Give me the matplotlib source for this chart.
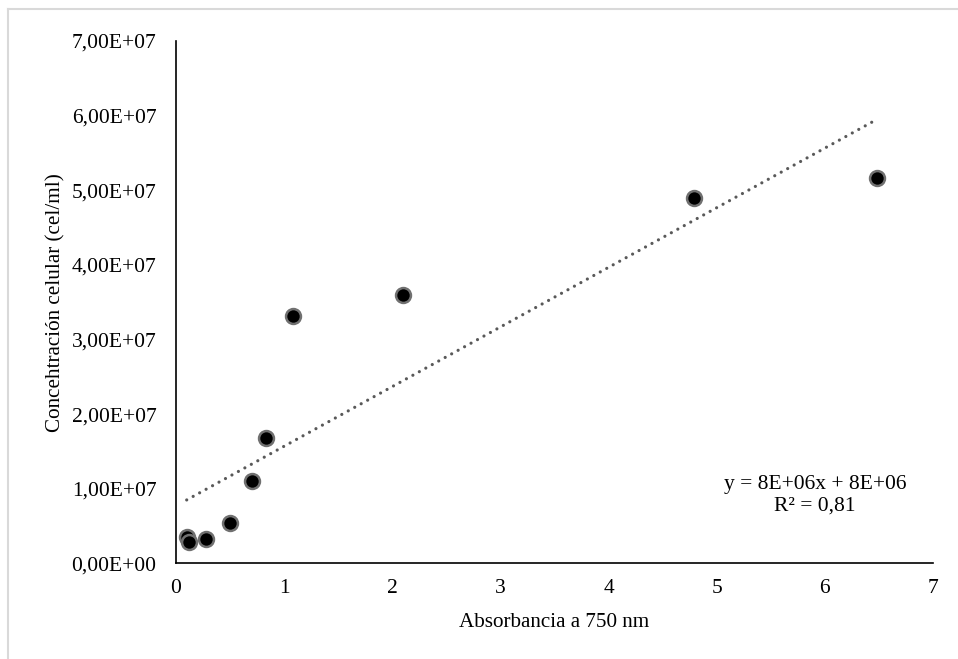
"""Concentración celular vs absorbancia a 750 nm, con línea de tendencia lineal."""

import numpy as np
import matplotlib.pyplot as plt
from matplotlib.lines import Line2D
from matplotlib.ticker import FuncFormatter


# ------------- Data ------------- #

absorbancia = [0.099, 0.123, 0.277, 0.50, 0.70, 0.83, 1.08, 2.10, 4.79, 6.48]
concentracion = [3.53e6, 2.86e6, 3.31e6, 5.4e6, 1.10e7, 1.68e7, 3.32e7, 3.60e7, 4.90e7, 5.16e7]
xTicks = [0, 1, 2, 3, 4, 5, 6, 7]
yTicks = [0, 1e7, 2e7, 3e7, 4e7, 5e7, 6e7, 7e7]
eqText = 'y = 8E+06x + 8E+06\nR² = 0,81'

# ------------- Style ------------- #

plt.rcParams['font.family'] = ['Liberation Serif', 'DejaVu Serif']
fsTick = 15.5
fsLab = 15.2


def sciComma(v, pos):
    s = '%.2E' % v
    return s.replace('.', ',')


# ------------- Trend line ------------- #

x = np.array(absorbancia)
y = np.array(concentracion)
slope, icpt = np.polyfit(x, y, 1)
xFit = np.array([x.min(), x.max()])
yFit = slope * xFit + icpt


# ------------- Plot ------------- #

fig = plt.figure(figsize=(9.58, 6.59), dpi=100)
ax = fig.add_axes([0.1837, 0.1452, 0.974 - 0.1837, 0.9378 - 0.1452])

ax.plot(xFit, yFit, linestyle=(0, (0.01, 2.3)), color='#595959', linewidth=2.3,
        dash_capstyle='round', zorder=2)
ax.scatter(x, y, s=115, c='black', edgecolors='#707070', linewidths=1.8, zorder=3)

ax.set_xlim(0, 7)
ax.set_ylim(0, 7e7)
ax.set_xticks(xTicks)
ax.set_yticks(yTicks)
ax.yaxis.set_major_formatter(FuncFormatter(sciComma))
ax.tick_params(length=0, labelsize=fsTick)
ax.tick_params(axis='y', pad=14)
ax.tick_params(axis='x', pad=11)

for side in ['top', 'right']:
    ax.spines[side].set_visible(False)
for side in ['left', 'bottom']:
    ax.spines[side].set_color('black')
    ax.spines[side].set_linewidth(1.2)

ax.set_xlabel('Absorbancia a 750 nm', fontsize=fsLab, labelpad=11)
ax.set_ylabel('Concehtración celular (cel/ml)', fontsize=fsLab, labelpad=4.5)

ax.text(5.91, 0.91e7, eqText, fontsize=fsTick, ha='center', va='center', linespacing=1.2)

# light chart frame
fig.add_artist(Line2D([8 / 958, 8 / 958], [0, 1 - 9 / 659], color='#d9d9d9', linewidth=1.5))
fig.add_artist(Line2D([8 / 958, 1], [1 - 9 / 659, 1 - 9 / 659], color='#d9d9d9', linewidth=1.5))

fig.savefig('out.png', dpi=100)
